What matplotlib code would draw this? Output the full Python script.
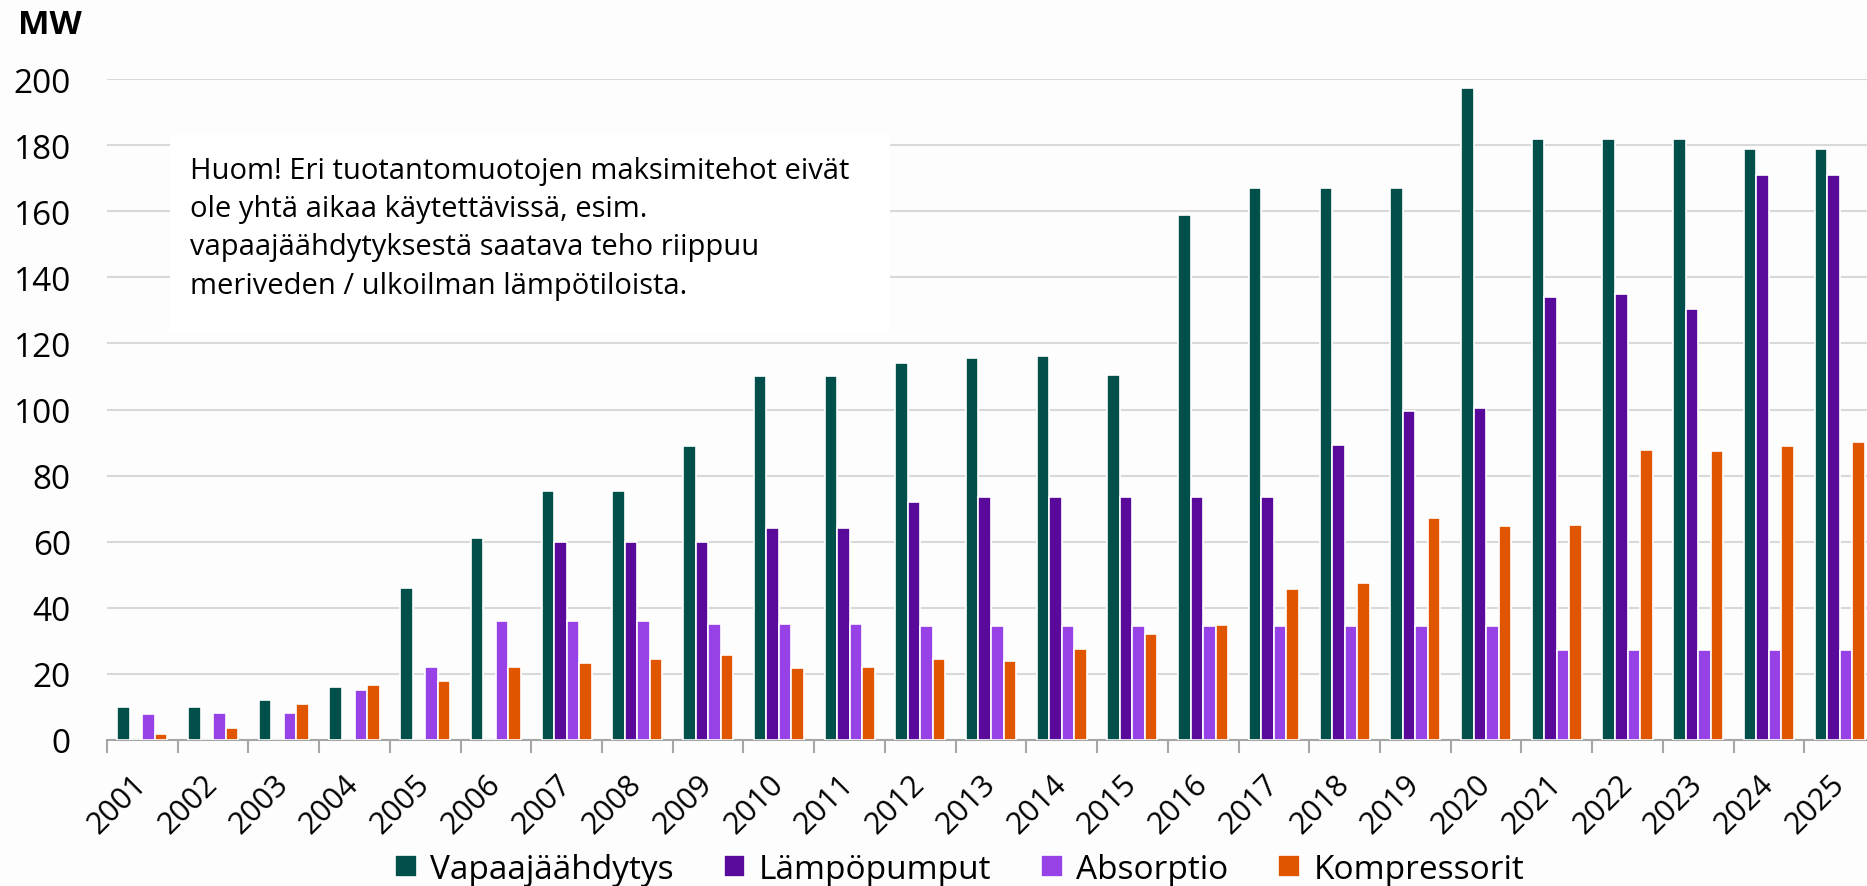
import numpy as np
import matplotlib.pyplot as plt
from matplotlib.patches import Rectangle

plt.rcParams['font.family'] = ['Open Sans', 'DejaVu Sans']

years = [str(y) for y in range(2001, 2026)]
vapaa = [10, 10, 12, 16, 46, 61, 75.3, 75.3, 89, 110, 110, 114.2, 115.6, 116.1, 110.4,
         158.9, 167, 167, 167, 197.4, 181.8, 181.8, 181.8, 178.7, 178.7]
lampo = [0, 0, 0, 0, 0, 0, 60, 60, 60, 64, 64, 72, 73.4, 73.4, 73.4,
         73.4, 73.4, 89.3, 99.4, 100.6, 134, 135, 130.4, 171.1, 171.1]
absorp = [8, 8.2, 8.2, 15, 22, 36, 36, 36, 35.1, 35.1, 35.1, 34.4, 34.4, 34.4, 34.4,
          34.4, 34.4, 34.4, 34.4, 34.4, 27.3, 27.3, 27.3, 27.3, 27.3]
kompr = [1.9, 3.5, 10.8, 16.6, 18, 22.2, 23.4, 24.6, 25.6, 21.8, 22.2, 24.6, 24, 27.4, 32,
         34.8, 45.8, 47.6, 67.2, 64.8, 65.2, 87.7, 87.4, 88.9, 90.1]

series = [("Vapaajäähdytys", vapaa, '#004f4a'),
          ("Lämpöpumput", lampo, '#5a0a9b'),
          ("Absorptio", absorp, '#9742e6'),
          ("Kompressorit", kompr, '#e05600')]

fig = plt.figure(figsize=(18.67, 8.87), dpi=100, facecolor='#fdfdfd')
ax = fig.add_axes([0.0573, 0.1646, 0.947, 0.7452])
ax.set_facecolor('#fdfdfd')

x = np.arange(len(years))
w = 0.177
for i, (name, vals, col) in enumerate(series):
    ax.bar(x + (i - 1.5) * w, vals, width=w, color=col, edgecolor='white',
           linewidth=1.2, label=name, zorder=3)

ax.set_xlim(-0.5, len(years) - 0.5)
ax.set_ylim(0, 200)
ax.set_yticks(range(0, 201, 20))
ax.grid(axis='y', color='#d9d9d9', lw=1.5, zorder=0)
ax.set_axisbelow(True)
for s in ['top', 'right', 'left']:
    ax.spines[s].set_visible(False)
ax.spines['bottom'].set_color('#a6a6a6')
ax.spines['bottom'].set_linewidth(1.5)

ax.tick_params(axis='y', length=0, labelsize=24, pad=26, colors='black')
ax.set_xticks(x)
ax.set_xticklabels(years, rotation=45, ha='right', va='center', rotation_mode='anchor', fontsize=22)
ax.tick_params(axis='x', which='major', length=0, pad=28)
ax.set_xticks(np.arange(-0.5, len(years), 1), minor=True)
ax.tick_params(axis='x', which='minor', length=9, width=1.5, color='#a6a6a6')

fig.text(0.0096, 0.99, "MW", fontsize=24, fontweight='bold', va='top', ha='left')

box = Rectangle((170 / 1867, 1 - 333 / 887), 720 / 1867, 198 / 887,
                transform=fig.transFigure, facecolor='white', edgecolor='none', zorder=5)
fig.patches.append(box)
fig.text(190 / 1867, 1 - 157 / 887,
         "Huom! Eri tuotantomuotojen maksimitehot eivät\n"
         "ole yhtä aikaa käytettävissä, esim.\n"
         "vapaajäähdytyksestä saatava teho riippuu\n"
         "meriveden / ulkoilman lämpötiloista.",
         fontsize=21, va='top', ha='left', linespacing=1.42, zorder=6)

fig.legend(loc='center', bbox_to_anchor=(0.514, 0.019), ncol=4, frameon=False,
           fontsize=24, handlelength=0.65, handleheight=0.65, handletextpad=0.4,
           columnspacing=1.5)

fig.savefig("out.png", dpi=100, facecolor=fig.get_facecolor())
